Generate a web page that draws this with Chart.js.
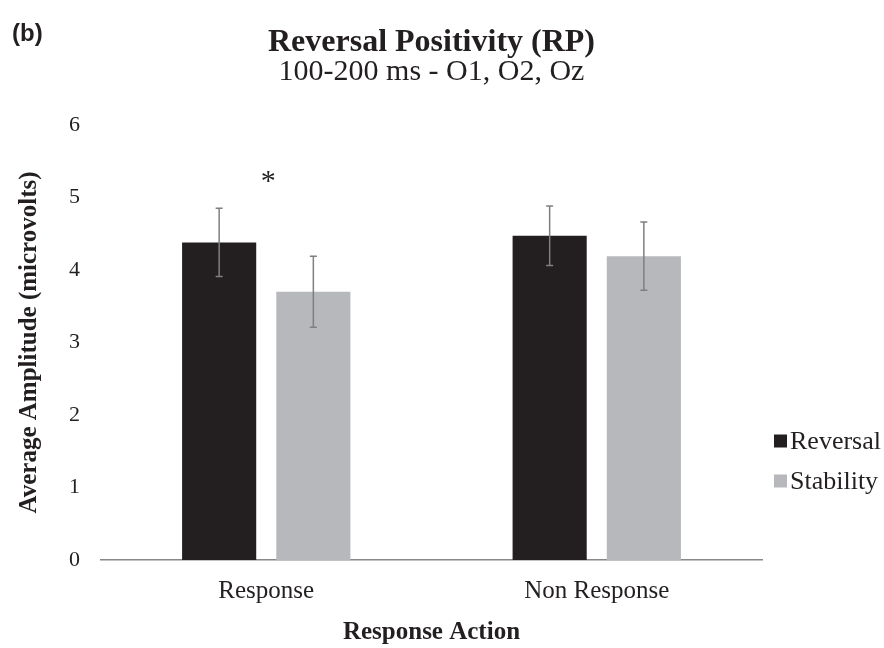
<!DOCTYPE html>
<html>
<head>
<meta charset="utf-8">
<script src="https://cdn.jsdelivr.net/npm/chart.js@4.4.0/dist/chart.umd.min.js"></script>
<style>
  html, body { margin: 0; padding: 0; background: #ffffff; }
  #wrap { width: 884px; height: 648px; }
</style>
</head>
<body>
<div id="wrap"><canvas id="c" width="884" height="648"></canvas></div>
<script>
const categories = ['Response', 'Non Response'];
const seriesNames = ['Reversal', 'Stability'];
const reversalValues = [4.38, 4.47];
const stabilityValues = [3.70, 4.19];
const reversalErrors = [0.47, 0.41];
const stabilityErrors = [0.49, 0.47];
const yTickMin = 0;
const yTickMax = 6;
const yTickStep = 1;
const significanceCategory = 'Response';
const significanceLevel = 5.27;

const SERIF = '"Liberation Serif", "Times New Roman", serif';

const errorBarPlugin = {
  id: 'errorBars',
  afterDatasetsDraw(chart) {
    const ctx = chart.ctx;
    const y = chart.scales.y;
    ctx.save();
    ctx.strokeStyle = '#7f7f7f';
    ctx.lineWidth = 1.5;
    chart.data.datasets.forEach((ds, di) => {
      const meta = chart.getDatasetMeta(di);
      meta.data.forEach((bar, i) => {
        const v = ds.data[i], e = ds.errors[i];
        const yt = y.getPixelForValue(v + e);
        const yb = y.getPixelForValue(v - e);
        const cap = 3.5;
        ctx.beginPath();
        ctx.moveTo(bar.x, yt); ctx.lineTo(bar.x, yb);
        ctx.moveTo(bar.x - cap, yt); ctx.lineTo(bar.x + cap, yt);
        ctx.moveTo(bar.x - cap, yb); ctx.lineTo(bar.x + cap, yb);
        ctx.stroke();
      });
    });
    ctx.restore();
  }
};

const annotationPlugin = {
  id: 'annotations',
  afterDraw(chart) {
    const ctx = chart.ctx;
    const xs = chart.scales.x, ys = chart.scales.y;
    ctx.save();
    // significance asterisk
    ctx.fillStyle = '#231f20';
    ctx.font = '30px ' + SERIF;
    ctx.textAlign = 'center';
    ctx.textBaseline = 'middle';
    const ci = categories.indexOf(significanceCategory);
    ctx.fillText('*', xs.getPixelForValue(ci) + 2, ys.getPixelForValue(significanceLevel) + 4);
    // panel letter
    ctx.font = 'bold 24px "Liberation Sans", Arial, sans-serif';
    ctx.textAlign = 'left';
    ctx.fillStyle = '#231f20';
    ctx.fillText('(b)', 12, 34);
    // legend
    const lx = 774, ly0 = 441, dy = 40, box = 13;
    chart.data.datasets.forEach((ds, i) => {
      const cy = ly0 + i * dy;
      ctx.fillStyle = ds.backgroundColor;
      ctx.fillRect(lx, cy - box / 2, box, box);
      ctx.fillStyle = '#231f20';
      ctx.font = '26px ' + SERIF;
      ctx.textAlign = 'left';
      ctx.textBaseline = 'middle';
      ctx.fillText(ds.label, lx + box + 3, cy + 1);
    });
    ctx.restore();
  }
};

new Chart(document.getElementById('c'), {
  type: 'bar',
  data: {
    labels: categories,
    datasets: [
      { label: seriesNames[0], data: reversalValues, errors: reversalErrors, backgroundColor: '#231f20' },
      { label: seriesNames[1], data: stabilityValues, errors: stabilityErrors, backgroundColor: '#b7b8bb' }
    ]
  },
  options: {
    responsive: false,
    animation: false,
    devicePixelRatio: 1,
    layout: { padding: { left: 0, right: 122, top: 0, bottom: 0 } },
    datasets: { bar: { categoryPercentage: 0.57, barPercentage: 0.787 } },
    plugins: {
      legend: { display: false },
      tooltip: { enabled: false },
      title: {
        display: true, fullSize: false,
        text: 'Reversal Positivity (RP)',
        color: '#231f20',
        font: { family: SERIF, size: 32, weight: 'bold', lineHeight: 0.95 },
        padding: { top: 28, bottom: 0 }
      },
      subtitle: {
        display: true, fullSize: false,
        text: '100-200 ms - O1, O2, Oz',
        color: '#231f20',
        font: { family: SERIF, size: 30, lineHeight: 0.9 },
        padding: { top: 0, bottom: 39.5 }
      }
    },
    scales: {
      x: {
        grid: { display: false, drawTicks: false },
        border: { display: true, color: '#888888', width: 1.5 },
        ticks: { color: '#231f20', font: { family: SERIF, size: 25 }, padding: 16 },
        title: {
          display: true, text: 'Response Action', color: '#231f20',
          font: { family: SERIF, size: 25, weight: 'bold', lineHeight: 1.2 },
          padding: { top: 0, bottom: 0 }
        },
        afterFit(s) { s.height = 88; }
      },
      y: {
        min: yTickMin, max: yTickMax,
        grid: { display: false, drawTicks: false },
        border: { display: false },
        ticks: { stepSize: yTickStep, color: '#231f20', font: { family: SERIF, size: 22 }, padding: 21 },
        title: {
          display: true, text: 'Average Amplitude (microvolts)', color: '#231f20',
          font: { family: SERIF, size: 25, weight: 'bold', lineHeight: 1.2 },
          padding: { top: 15, bottom: 0 }
        },
        afterFit(s) { s.width = 101; }
      }
    }
  },
  plugins: [errorBarPlugin, annotationPlugin]
});
</script>
</body>
</html>
